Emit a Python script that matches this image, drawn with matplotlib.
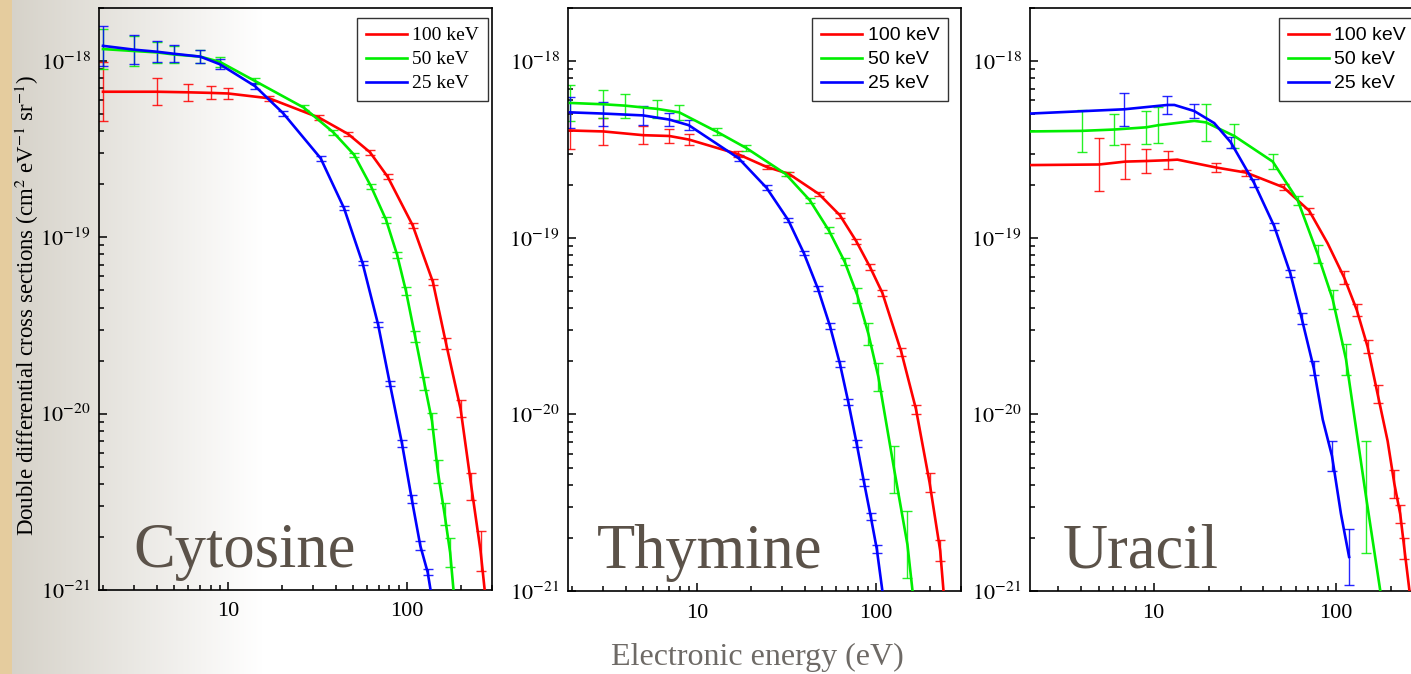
import numpy as np
import matplotlib
matplotlib.use('Agg')
import matplotlib.pyplot as plt
from matplotlib.ticker import FixedLocator, FixedFormatter, NullFormatter

plt.rcParams['font.family'] = ['Liberation Serif', 'DejaVu Serif']
plt.rcParams['mathtext.fontset'] = 'stix'

## data (x: electron energy in eV, y: DDCS in cm2 eV-1 sr-1)
## f = error-bar factor: bar goes from y/f to y*f, f = 1 means no bar
energies = ['100 keV', '50 keV', '25 keV']
colors = ['#ff0000', '#00ee00', '#0000ff']

# Cytosine
cyt_x_100 = [2.0, 4.0, 6.0, 8.0, 10.0, 17.0, 32.3, 47.0, 62.3, 78.2, 108.0, 140.0, 166.0, 200.0, 230.0, 259.0, 273.0]
cyt_y_100 = [6.7e-19, 6.7e-19, 6.65e-19, 6.6e-19, 6.55e-19, 6.15e-19, 4.78e-19, 3.86e-19, 3.04e-19, 2.21e-19,
             1.17e-19, 5.6e-20, 2.5e-20, 1.07e-20, 3.85e-21, 1.66e-21, 1.0e-21]
cyt_f_100 = [1.47, 1.19, 1.12, 1.09, 1.08, 1.035, 1.03, 1.03, 1.03, 1.035, 1.035, 1.04, 1.077, 1.12, 1.19, 1.30, 1.0]

cyt_x_50 = [2.0, 3.0, 4.0, 5.0, 7.0, 9.0, 14.2, 26.6, 38.9, 50.8, 63.1, 76.6, 88.3, 99.1, 111.5, 125.7, 138.5,
            149.4, 162.8, 175.0, 182.7]
cyt_y_50 = [1.17e-18, 1.14e-18, 1.12e-18, 1.09e-18, 1.06e-18, 9.9e-19, 7.7e-19, 5.44e-19, 3.94e-19, 2.94e-19,
            1.95e-19, 1.26e-19, 7.98e-20, 4.95e-20, 2.73e-20, 1.48e-20, 9.1e-21, 4.68e-21, 2.7e-21, 1.63e-21, 1.0e-21]
cyt_f_50 = [1.30, 1.21, 1.15, 1.12, 1.086, 1.065, 1.04, 1.03, 1.03, 1.03, 1.035, 1.04, 1.04, 1.05, 1.077, 1.09,
            1.11, 1.16, 1.16, 1.21, 1.0]

cyt_x_25 = [2.0, 3.0, 4.0, 5.0, 7.0, 9.0, 14.2, 20.4, 33.0, 44.6, 56.6, 69.2, 80.5, 94.1, 106.7, 119.2, 131.0, 136.0]
cyt_y_25 = [1.22e-18, 1.16e-18, 1.13e-18, 1.10e-18, 1.06e-18, 9.6e-19, 7.2e-19, 5.05e-19, 2.81e-19, 1.465e-19,
            7.16e-20, 3.2e-20, 1.48e-20, 6.77e-21, 3.28e-21, 1.78e-21, 1.26e-21, 1.0e-21]
cyt_f_25 = [1.30, 1.21, 1.15, 1.12, 1.086, 1.065, 1.04, 1.03, 1.03, 1.03, 1.03, 1.03, 1.035, 1.045, 1.055, 1.06, 1.04, 1.0]

# Thymine
thy_x_100 = [1.95, 3.0, 5.0, 7.0, 9.0, 16.9, 24.5, 32.7, 48.1, 63.1, 77.9, 93.0, 109.0, 139.0, 168.0, 200.0, 229.5, 239.5]
thy_y_100 = [4.05e-19, 4.0e-19, 3.81e-19, 3.77e-19, 3.6e-19, 2.98e-19, 2.52e-19, 2.3e-19, 1.77e-19, 1.34e-19,
             9.55e-20, 6.82e-20, 4.87e-20, 2.26e-20, 1.07e-20, 4.13e-21, 1.69e-21, 1.0e-21]
thy_f_100 = [1.27, 1.19, 1.12, 1.09, 1.08, 1.04, 1.03, 1.03, 1.03, 1.03, 1.035, 1.035, 1.04, 1.05, 1.06, 1.13, 1.15, 1.0]

thy_x_50 = [1.95, 3.0, 3.96, 5.97, 7.96, 12.9, 18.9, 31.3, 42.8, 54.7, 67.0, 78.9, 91.0, 103.5, 126.8, 150.5, 160.7]
thy_y_50 = [5.8e-19, 5.7e-19, 5.6e-19, 5.37e-19, 5.13e-19, 3.99e-19, 3.22e-19, 2.3e-19, 1.63e-19, 1.1e-19,
            7.33e-20, 4.73e-20, 2.86e-20, 1.63e-20, 4.89e-21, 1.83e-21, 1.0e-21]
thy_f_50 = [1.27, 1.2, 1.17, 1.12, 1.1, 1.05, 1.04, 1.03, 1.03, 1.04, 1.05, 1.1, 1.15, 1.2, 1.36, 1.55, 1.0]

thy_x_25 = [1.95, 3.0, 5.0, 7.0, 9.0, 17.1, 24.5, 32.4, 39.6, 47.5, 55.5, 63.1, 70.3, 78.2, 86.0, 93.8, 101.4, 109.0]
thy_y_25 = [5.13e-19, 5.05e-19, 4.93e-19, 4.67e-19, 4.34e-19, 2.82e-19, 1.92e-19, 1.26e-19, 8.2e-20, 5.15e-20,
            3.16e-20, 1.93e-20, 1.17e-20, 6.85e-21, 4.13e-21, 2.64e-21, 1.73e-21, 1.0e-21]
thy_f_25 = [1.22, 1.17, 1.13, 1.09, 1.07, 1.04, 1.03, 1.03, 1.03, 1.035, 1.035, 1.04, 1.04, 1.045, 1.045, 1.05, 1.05, 1.0]

# Uracil
ura_x_100 = [2.1, 5.03, 7.0, 9.08, 12.0, 13.5, 22.0, 32.1, 51.6, 71.4, 90.0, 111.0, 130.0, 149.0, 169.0, 192.0,
             209.0, 225.0, 237.0, 253.0]
ura_y_100 = [2.58e-19, 2.6e-19, 2.7e-19, 2.72e-19, 2.75e-19, 2.77e-19, 2.5e-19, 2.34e-19, 1.93e-19, 1.42e-19,
             9.3e-20, 5.94e-20, 3.9e-20, 2.42e-20, 1.31e-20, 7.06e-21, 4.04e-21, 2.73e-21, 1.74e-21, 1.0e-21]
ura_f_100 = [1.0, 1.42, 1.25, 1.17, 1.12, 1.0, 1.06, 1.04, 1.04, 1.035, 1.0, 1.09, 1.075, 1.09, 1.125, 1.0, 1.2,
             1.12, 1.15, 1.0]

ura_x_50 = [2.1, 4.03, 6.04, 9.08, 10.6, 16.7, 19.4, 27.7, 45.0, 61.7, 79.3, 95.9, 113.5, 146.2, 175.0]
ura_y_50 = [4.0e-19, 4.03e-19, 4.1e-19, 4.22e-19, 4.34e-19, 4.59e-19, 4.5e-19, 3.77e-19, 2.7e-19, 1.63e-19,
            8.09e-20, 4.49e-20, 2.05e-20, 3.41e-21, 1.0e-21]
ura_f_50 = [1.0, 1.31, 1.23, 1.24, 1.26, 1.0, 1.27, 1.17, 1.10, 1.06, 1.12, 1.13, 1.22, 2.07, 1.0]

ura_x_25 = [2.1, 6.9, 11.9, 13.0, 16.7, 21.5, 26.5, 35.6, 45.9, 56.2, 64.9, 75.5, 84.6, 95.1, 106.5, 118.0]
ura_y_25 = [5.05e-19, 5.34e-19, 5.65e-19, 5.65e-19, 5.22e-19, 4.46e-19, 3.47e-19, 2.04e-19, 1.16e-19, 6.28e-20,
            3.49e-20, 1.83e-20, 9.35e-21, 5.81e-21, 2.73e-21, 1.56e-21]
ura_f_25 = [1.0, 1.24, 1.12, 1.0, 1.09, 1.0, 1.07, 1.05, 1.05, 1.05, 1.07, 1.09, 1.0, 1.22, 1.0, 1.44]

names = ['Cytosine', 'Thymine', 'Uracil']
panels = [
    [(cyt_x_100, cyt_y_100, cyt_f_100), (cyt_x_50, cyt_y_50, cyt_f_50), (cyt_x_25, cyt_y_25, cyt_f_25)],
    [(thy_x_100, thy_y_100, thy_f_100), (thy_x_50, thy_y_50, thy_f_50), (thy_x_25, thy_y_25, thy_f_25)],
    [(ura_x_100, ura_y_100, ura_f_100), (ura_x_50, ura_y_50, ura_f_50), (ura_x_25, ura_y_25, ura_f_25)],
]

# tick positions / labels
xticks = [10, 100]
xticklabels = ['10', '100']
yticks = [1e-21, 1e-20, 1e-19, 1e-18]
yticklabels = [r'$10^{-21}$', r'$10^{-20}$', r'$10^{-19}$', r'$10^{-18}$']
xminor = [2, 3, 4, 5, 6, 7, 8, 9, 20, 30, 40, 50, 60, 70, 80, 90, 200, 300]
yminor = [m * 10.0 ** e for e in (-21, -20, -19) for m in range(2, 10)] + [2e-18]

##レイアウト（ピクセル）
W, H = 1411, 674
boxes = [(99, 8, 393, 582), (568, 8, 393, 583), (1030, 8, 393, 583)]
xlims = [(1.9, 300), (1.9, 300), (2.1, 300)]
legend_right = [488, 948, 1415]
legend_font = ['Liberation Serif', 'Liberation Sans', 'Liberation Sans']
name_left = [133, 597, 1063]

fig = plt.figure(figsize=(W / 100, H / 100), dpi=100)

# background: parchment strip + grey-to-white gradient
cols = np.arange(W)
shade = np.clip(0.84 + 0.16 * (cols - 12) / 250, 0, 1)
row = np.ones((W, 3))
row[:, 0] = shade
row[:, 1] = shade - 0.015 * (1 - shade) / 0.16
row[:, 2] = shade - 0.05 * (1 - shade) / 0.16
row[:12] = [0.90, 0.80, 0.62]
img = np.clip(np.repeat(row[None, :, :], H, axis=0), 0, 1)
fig.figimage(img, xo=0, yo=0, zorder=-10)

for i, series in enumerate(panels):
    l, t, w, h = boxes[i]
    ax = fig.add_axes([l / W, 1 - (t + h) / H, w / W, h / H])
    ax.set_facecolor('none')
    ax.set_xscale('log')
    ax.set_yscale('log')

    handles = []
    for (x, y, f), c, lab in zip(series, colors, energies):
        x = np.array(x)
        y = np.array(y)
        f = np.array(f)
        ln, = ax.plot(x, y, color=c, lw=1.9, label=lab, zorder=3)
        handles.append(ln)
        m = f > 1.0
        lo = y[m] - y[m] / f[m]
        hi = y[m] * f[m] - y[m]
        ax.errorbar(x[m], y[m], yerr=[lo, hi], fmt='none', ecolor=c, elinewidth=1.0,
                    capsize=3.6, capthick=1.0, zorder=2, alpha=0.85)

    ax.set_xlim(*xlims[i])
    ax.set_ylim(1e-21, 2e-18)

    xm = [v for v in xminor if xlims[i][0] <= v <= xlims[i][1]]
    ax.xaxis.set_major_locator(FixedLocator(xticks))
    ax.xaxis.set_major_formatter(FixedFormatter(xticklabels))
    ax.xaxis.set_minor_locator(FixedLocator(xm))
    ax.xaxis.set_minor_formatter(NullFormatter())
    ax.yaxis.set_major_locator(FixedLocator(yticks))
    ax.yaxis.set_major_formatter(FixedFormatter(yticklabels))
    ax.yaxis.set_minor_locator(FixedLocator(yminor))
    ax.yaxis.set_minor_formatter(NullFormatter())

    ax.tick_params(which='both', direction='in', top=False, right=False, width=1.1, labelsize=16,
                   colors='black')
    ax.tick_params(which='major', length=6, pad=6)
    ax.tick_params(axis='x', which='major', pad=9)
    ax.tick_params(which='minor', length=3.3)
    for sp in ax.spines.values():
        sp.set_linewidth(1.2)

    leg = ax.legend(handles=handles, loc='upper right',
                    bbox_to_anchor=((legend_right[i] - l) / w, 1 - 10 / h),
                    borderaxespad=0, fancybox=False, framealpha=1, edgecolor='#333333',
                    handlelength=2.1, handletextpad=0.3, borderpad=0.45, labelspacing=0.33,
                    prop={'family': legend_font[i], 'size': 14})
    leg.get_frame().set_linewidth(1.0)

    ax.text((name_left[i] - l) / w, 23 / h, names[i], transform=ax.transAxes, ha='left',
            va='baseline', fontsize=45, color='#5b5249')

fig.text(27 / W, 1 - 305 / H, r'Double differential cross sections (cm$^{2}$ eV$^{-1}$ sr$^{-1}$)',
         rotation=90, ha='center', va='center', fontsize=16.5)
fig.text(757 / W, 1 - 657 / H, 'Electronic energy (eV)', ha='center', va='center', fontsize=23,
         color='#6e6a66')

fig.savefig('out.png', dpi=100)
